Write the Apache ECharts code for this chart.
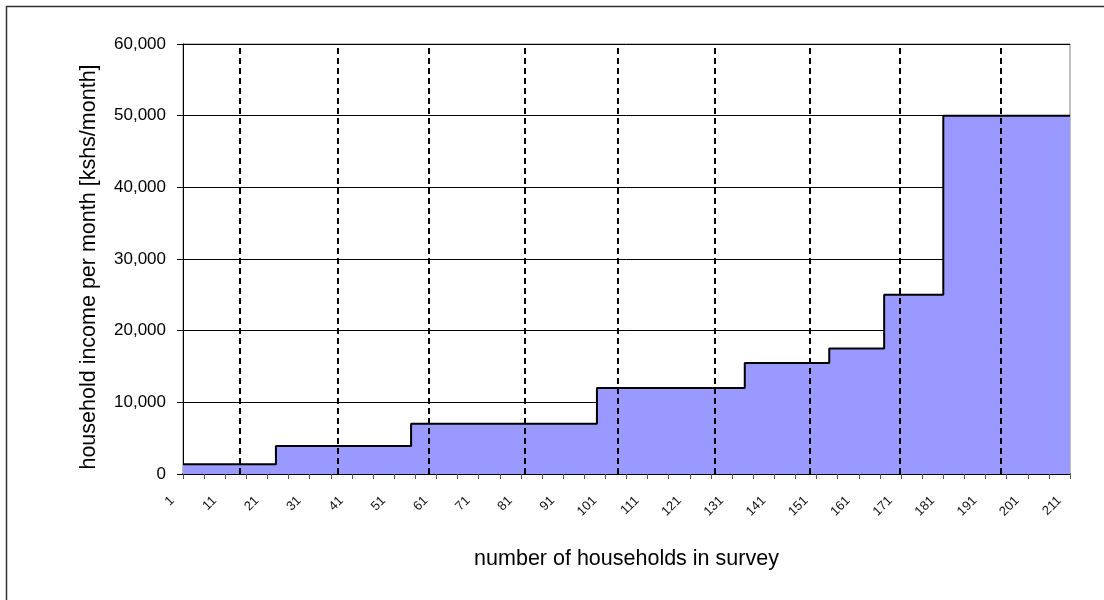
<!DOCTYPE html>
<html>
<head>
<meta charset="utf-8">
<script src="https://cdn.jsdelivr.net/npm/echarts@6/dist/echarts.min.js"></script>
<style>
  html, body { margin: 0; padding: 0; background: #fff; }
  #chart { width: 1104px; height: 600px; }
</style>
</head>
<body>
<div id="chart"></div>
<script>
// Households surveyed, numbered 1..N along the x axis
const householdCount = 211;
// First household of each income band and the band's monthly income
const stepStart = ['1', '23', '55', '99', '134', '154', '167', '181'];
const stepIncome = [1350, 3900, 7000, 12000, 15500, 17500, 25000, 50000];
// Dashed markers (decile boundaries, in household number)
const decileMarks = [14.5, 37.7, 59.1, 81.8, 104, 126.8, 149.5, 170.8, 194.5];
// Y axis range
const yMin = 0, yMax = 60000, yStep = 10000;

const categories = [];
for (let i = 1; i <= householdCount; i++) categories.push(String(i));

const stepData = stepStart.map((s, i) => [s, stepIncome[i]]);
stepData.push([String(householdCount), stepIncome[stepIncome.length - 1]]);

const FONT = '"Liberation Sans", Arial, sans-serif';

const chart = echarts.init(document.getElementById('chart'), null, { renderer: 'canvas' });
chart.setOption({
  backgroundColor: '#fff',
  animation: false,
  textStyle: { fontFamily: FONT },
  graphic: [{
    type: 'rect',
    shape: { x: 6.5, y: 6.5, width: 1200, height: 700 },
    style: { fill: 'none', stroke: '#333', lineWidth: 1.5 },
    silent: true
  }],
  grid: {
    left: 183, top: 44, right: 34, bottom: 126,
    show: true, borderColor: '#808080', borderWidth: 1
  },
  xAxis: [{
    type: 'category',
    data: categories,
    boundaryGap: false,
    name: 'number of households in survey',
    nameLocation: 'middle',
    nameGap: 74,
    nameTextStyle: { fontSize: 21.5, color: '#000', fontFamily: FONT },
    axisLine: { lineStyle: { color: '#000', width: 1.5 } },
    axisTick: { interval: 4, length: 5, lineStyle: { color: '#555' } },
    axisLabel: {
      interval: 9, rotate: 45, fontSize: 13, color: '#111', margin: 14,
      padding: [0, 15, 0, 0],
      fontFamily: FONT
    },
    splitLine: { show: false }
  }, {
    type: 'value',
    min: 1, max: householdCount,
    show: false
  }],
  yAxis: {
    type: 'value',
    min: yMin, max: yMax, interval: yStep,
    name: 'household income per month [kshs/month]',
    nameLocation: 'middle',
    nameGap: 83,
    nameTextStyle: { fontSize: 21.5, color: '#000', fontFamily: FONT, padding: [0, 16, 0, 0] },
    axisLine: { show: true, lineStyle: { color: '#000', width: 1 } },
    axisTick: { show: true, length: 6, lineStyle: { color: '#000' } },
    axisLabel: {
      fontSize: 17, color: '#000', margin: 17, fontFamily: FONT,
      formatter: v => v.toLocaleString('en-US')
    },
    splitLine: { lineStyle: { color: '#000', width: 1 } }
  },
  series: [{
    type: 'line',
    xAxisIndex: 0,
    step: 'end',
    data: stepData,
    symbol: 'none',
    lineStyle: { color: '#000', width: 2 },
    areaStyle: { color: '#9999FF', opacity: 1 },
    z: 2
  }, {
    type: 'line',
    xAxisIndex: 1,
    data: [],
    symbol: 'none',
    z: 5,
    markLine: {
      silent: true,
      symbol: ['none', 'none'],
      label: { show: false },
      lineStyle: { color: '#000', type: [6, 4], width: 2 },
      data: decileMarks.map(v => ({ xAxis: v }))
    }
  }]
});
</script>
</body>
</html>
